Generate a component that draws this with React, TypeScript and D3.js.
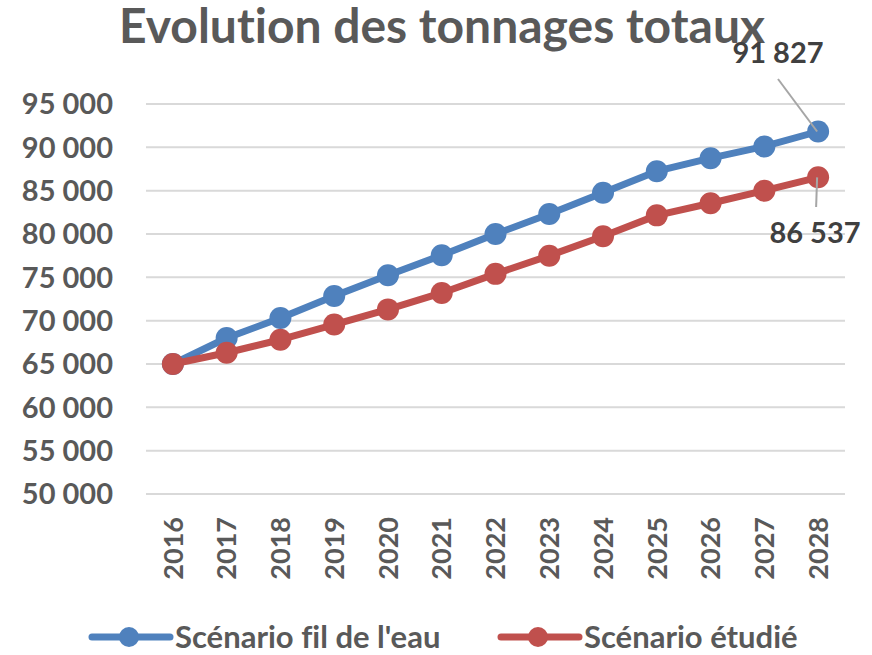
import React, { useEffect, useRef } from "react";
import * as d3 from "d3";

const years = ["2016", "2017", "2018", "2019", "2020", "2021", "2022", "2023", "2024", "2025", "2026", "2027", "2028"];
const filDeLeau = [65000, 68000, 70300, 72850, 75250, 77550, 80000, 82300, 84750, 87250, 88750, 90100, 91827];
const etudie = [65000, 66300, 67800, 69550, 71300, 73200, 75400, 77500, 79750, 82150, 83550, 85000, 86537];
const yTicks = [50000, 55000, 60000, 65000, 70000, 75000, 80000, 85000, 90000, 95000];

const series = [
  { name: "Scénario fil de l'eau", values: filDeLeau, color: "#4F81BD" },
  { name: "Scénario étudié", values: etudie, color: "#C0504D" },
];

const App = () => {
  const svgRef = useRef<SVGSVGElement>(null);

  useEffect(() => {
    const width = 872;
    const height = 655;
    const font = "Lato, 'Open Sans', sans-serif";
    const textColor = "#595959";

    const svg = d3.select(svgRef.current);
    svg.selectAll("*").remove();
    svg.attr("width", width).attr("height", height)
      .style("font-family", font)
      .style("font-variant-ligatures", "none");

    const x = d3.scalePoint<string>().domain(years).range([146, 845]).padding(0.5);
    const y = d3.scaleLinear().domain([50000, 95000]).range([494, 104]);
    const fmt = (v: number) => d3.format(",")(v).replace(/,/g, " ");

    // title
    svg.append("text")
      .attr("x", 442).attr("y", 43)
      .attr("text-anchor", "middle")
      .attr("font-size", 48).attr("font-weight", 700)
      .attr("fill", textColor)
      .text("Evolution des tonnages totaux");

    // gridlines
    svg.append("g")
      .selectAll("line")
      .data(yTicks)
      .join("line")
      .attr("x1", 146).attr("x2", 845)
      .attr("y1", (d) => y(d)).attr("y2", (d) => y(d))
      .attr("stroke", "#D9D9D9").attr("stroke-width", 2);

    // y labels
    svg.append("g")
      .selectAll("text")
      .data(yTicks)
      .join("text")
      .attr("x", 113).attr("y", (d) => y(d))
      .attr("dy", "0.36em")
      .attr("text-anchor", "end")
      .attr("font-size", 29).attr("font-weight", 700)
      .attr("fill", textColor)
      .text((d) => fmt(d));

    // x labels
    svg.append("g")
      .selectAll("text")
      .data(years)
      .join("text")
      .attr("transform", (d) => `translate(${x(d)},517) rotate(-90)`)
      .attr("dy", "0.36em")
      .attr("text-anchor", "end")
      .attr("font-size", 27).attr("font-weight", 700)
      .attr("fill", textColor)
      .text((d) => d);

    const line = d3.line<number>()
      .x((_, i) => x(years[i]) as number)
      .y((d) => y(d));

    series.forEach((s) => {
      const g = svg.append("g");
      g.append("path")
        .datum(s.values)
        .attr("d", line)
        .attr("fill", "none")
        .attr("stroke", s.color)
        .attr("stroke-width", 7)
        .attr("stroke-linejoin", "round");
      g.selectAll("circle")
        .data(s.values)
        .join("circle")
        .attr("cx", (_, i) => x(years[i]) as number)
        .attr("cy", (d) => y(d))
        .attr("r", 11)
        .attr("fill", s.color);
    });

    // data labels with leader lines
    const last = years[years.length - 1];
    const lx = x(last) as number;
    svg.append("line")
      .attr("x1", 778).attr("y1", 79)
      .attr("x2", lx - 1).attr("y2", y(filDeLeau[filDeLeau.length - 1]))
      .attr("stroke", "#A6A6A6").attr("stroke-width", 2);
    svg.append("line")
      .attr("x1", lx - 1).attr("y1", y(etudie[etudie.length - 1]))
      .attr("x2", lx - 2).attr("y2", 207)
      .attr("stroke", "#A6A6A6").attr("stroke-width", 2);
    svg.append("text")
      .attr("x", 778).attr("y", 63)
      .attr("text-anchor", "middle")
      .attr("font-size", 29).attr("font-weight", 700)
      .attr("fill", "#404040")
      .text(fmt(filDeLeau[filDeLeau.length - 1]));
    svg.append("text")
      .attr("x", 815).attr("y", 243)
      .attr("text-anchor", "middle")
      .attr("font-size", 29).attr("font-weight", 700)
      .attr("fill", "#404040")
      .text(fmt(etudie[etudie.length - 1]));

    // legend
    const legendX = [92, 501];
    series.forEach((s, i) => {
      const g = svg.append("g").attr("transform", `translate(${legendX[i]},637)`);
      g.append("line")
        .attr("x1", 0).attr("x2", 78)
        .attr("stroke", s.color).attr("stroke-width", 7)
        .attr("stroke-linecap", "round");
      g.append("circle").attr("cx", 37).attr("r", 10).attr("fill", s.color);
      g.append("text")
        .attr("x", 83).attr("dy", "0.36em")
        .attr("font-size", 31).attr("font-weight", 700)
        .attr("fill", textColor)
        .text(s.name);
    });
  }, []);

  return (
    <svg ref={svgRef} style={{ position: "absolute", left: 0, top: 0, display: "block" }}></svg>
  );
};

export default App;
